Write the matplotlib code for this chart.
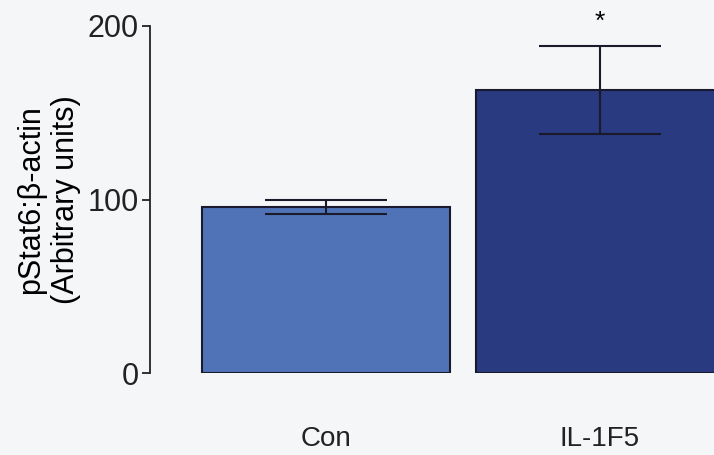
import numpy as np
import matplotlib.pyplot as plt

plt.rcParams['font.family'] = ['Liberation Sans', 'DejaVu Sans']

# Data
groups = ['Con', 'IL-1F5']
means = [95.6, 163.0]
errors = [4.0, 25.5]
colors = ['#5072b6', '#2a3a80']
yticks = [0, 100, 200]

fig = plt.figure(figsize=(7.14, 4.55), dpi=100)
fig.patch.set_facecolor('#f5f6f8')
ax = fig.add_axes([0.2101, 0.180, 0.7899, 0.763])
ax.set_facecolor('#f5f6f8')

x = np.arange(len(groups))
ax.bar(x, means, width=0.907, color=colors, edgecolor='#1a1a2e', linewidth=1.5, zorder=2)
ax.errorbar(x, means, yerr=errors, fmt='none', ecolor='#1a1a2a', elinewidth=1.5,
            capsize=44, capthick=1.5, zorder=3)

# significance marker
ax.text(x[1], means[1] + errors[1] + 14, '*', ha='center', va='center',
        fontsize=19, clip_on=False)

ax.set_xlim(-0.644, 1.417)
ax.set_ylim(0, 200)
ax.set_yticks(yticks)
ax.set_xticks(x)
ax.set_xticklabels(groups)

for s in ['top', 'right', 'bottom']:
    ax.spines[s].set_visible(False)
ax.spines['left'].set_linewidth(1.3)
ax.spines['left'].set_color('#222222')

ax.tick_params(axis='y', length=6, width=1.3, labelsize=22, pad=2, colors='#222222')
ax.tick_params(axis='x', length=0, labelsize=20, pad=38, colors='#222222')

ax.set_ylabel('pStat6:\u03b2-actin\n(Arbitrary units)', fontsize=22, labelpad=5, linespacing=1.2)

fig.savefig('out.png', dpi=100, facecolor=fig.get_facecolor())
